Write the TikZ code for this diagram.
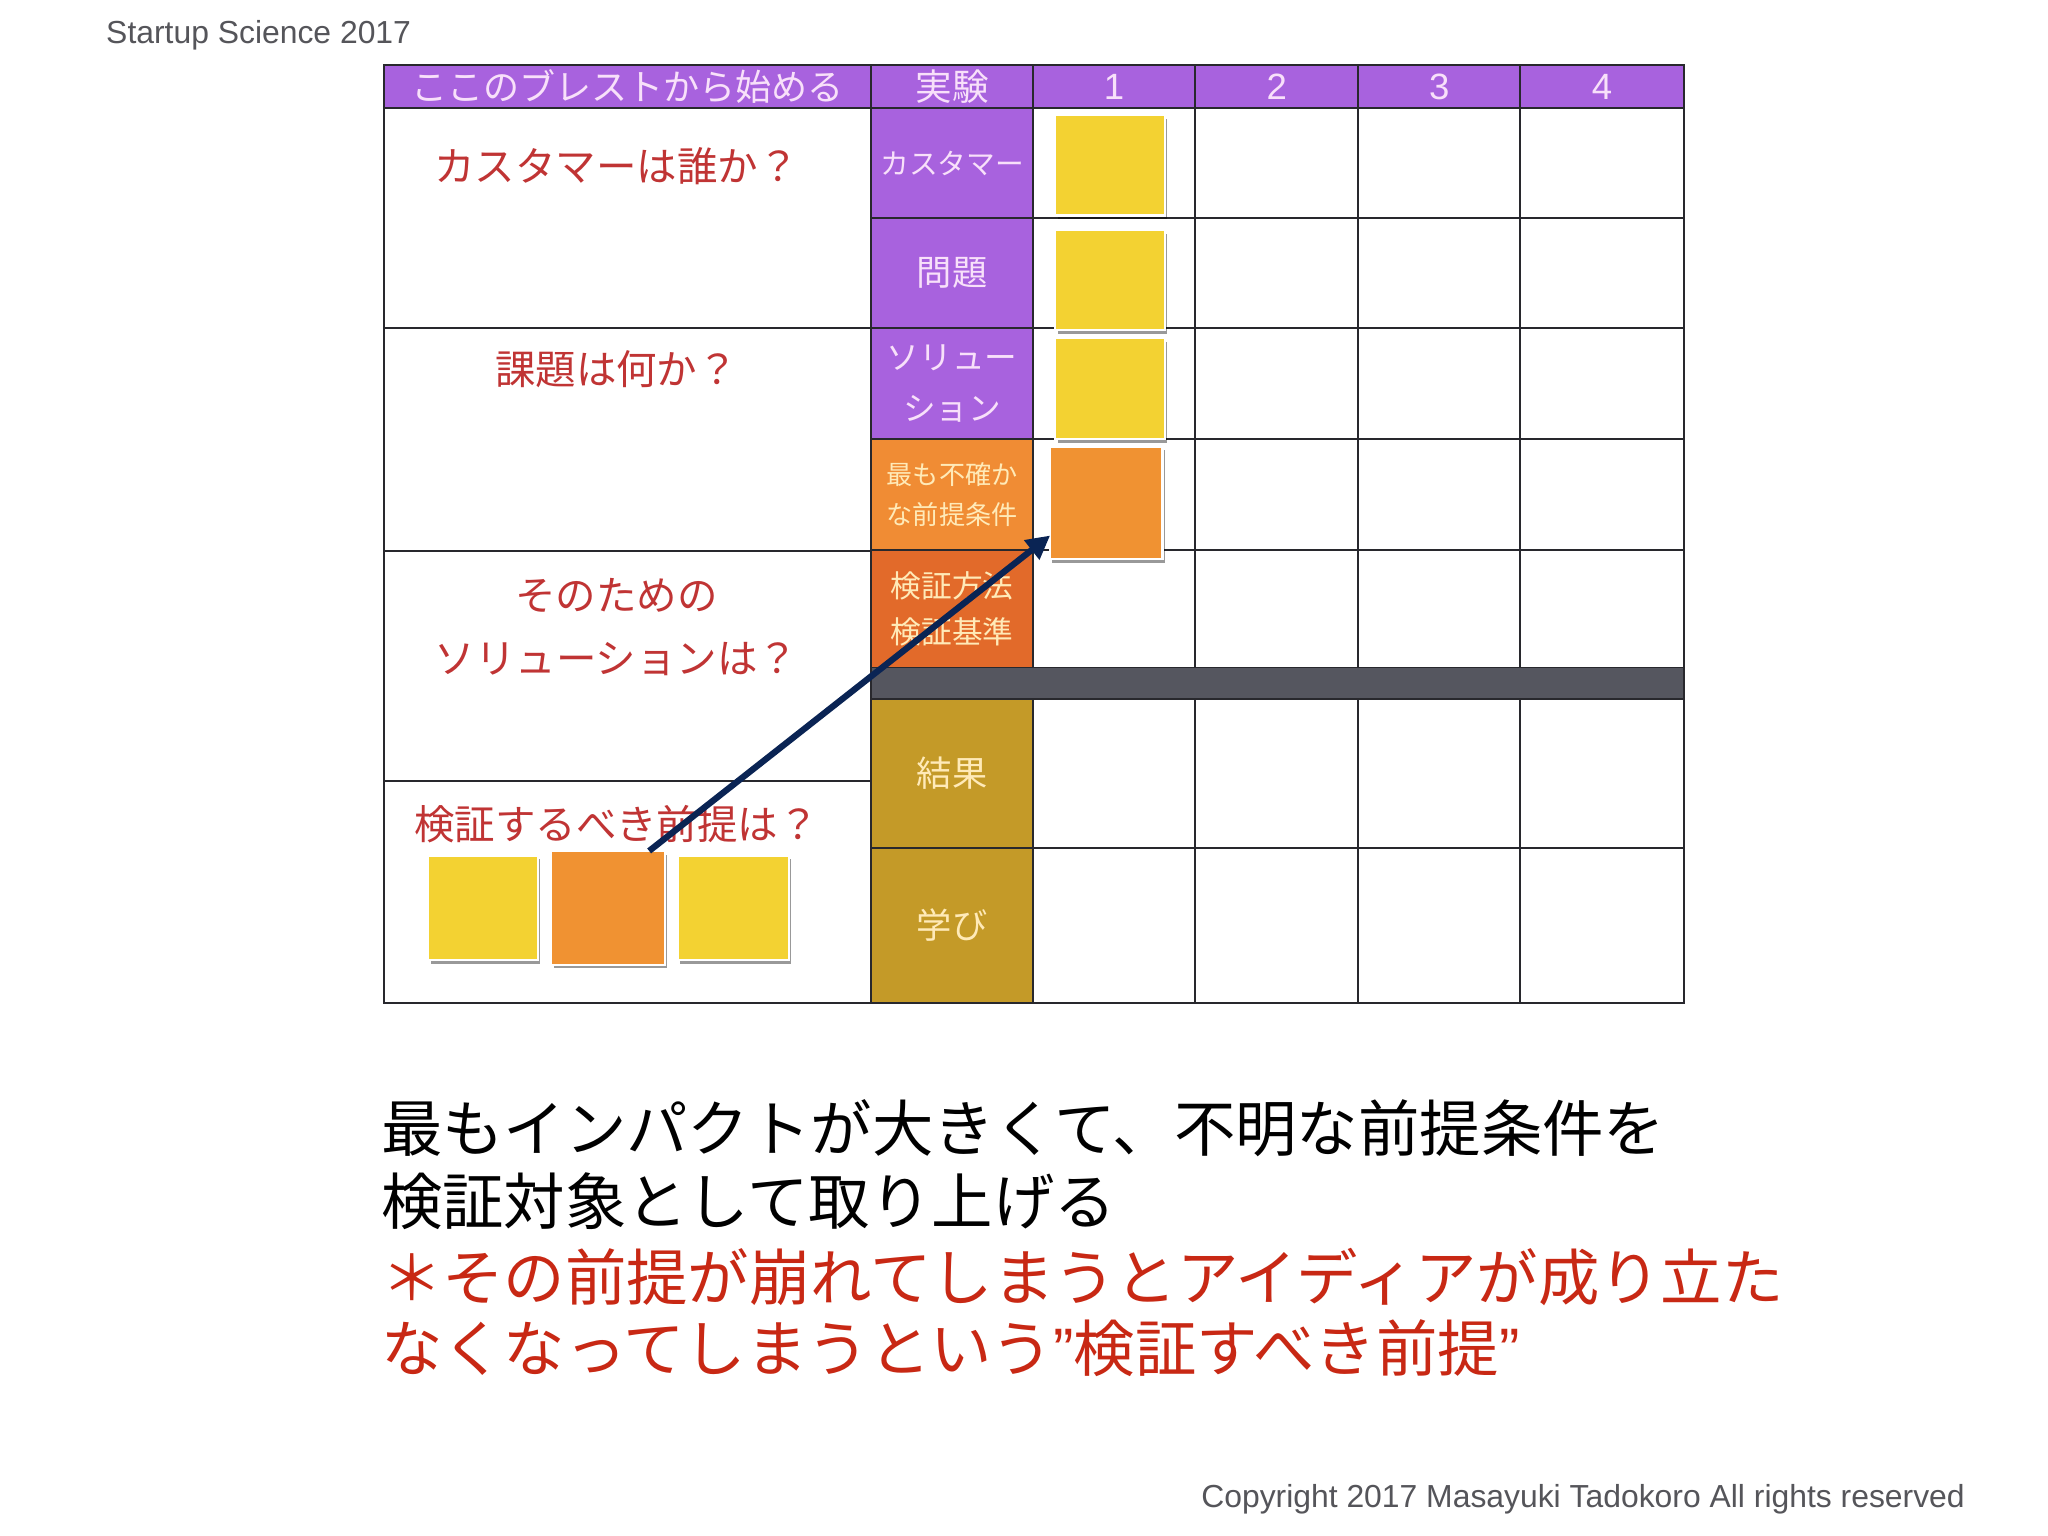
\documentclass[tikz,border=0pt]{standalone}
\usepackage{fontspec}
\setmainfont{Liberation Sans}
\newfontfamily\jpfont{Noto Sans CJK JP}
\usetikzlibrary{positioning,arrows.meta,shadows}

\definecolor{purp}{RGB}{168,98,222}
\definecolor{purptxt}{RGB}{248,224,250}
\definecolor{premc}{RGB}{240,140,52}
\definecolor{methc}{RGB}{226,106,42}
\definecolor{mustard}{RGB}{196,154,40}
\definecolor{warmtxt}{RGB}{255,234,184}
\definecolor{darkbar}{RGB}{85,86,95}
\definecolor{gridc}{RGB}{40,40,45}
\definecolor{stickyy}{RGB}{243,210,50}
\definecolor{stickyo}{RGB}{240,146,50}
\definecolor{qred}{RGB}{192,52,52}
\definecolor{nred}{RGB}{200,40,20}
\definecolor{navy}{RGB}{10,36,84}
\definecolor{footgray}{RGB}{85,85,90}

\tikzset{
  hdr/.style={draw=gridc, fill=purp, text=purptxt, inner sep=0pt, outer sep=0pt,
    minimum height=16.5pt, minimum width=62pt},
  side/.style={draw=gridc, inner sep=0pt, outer sep=0pt, minimum width=62pt, align=center},
  sticky/.style={draw=white, line width=0.8pt, inner sep=0pt, outer sep=0pt, minimum width=42pt,
    minimum height=38.5pt, drop shadow={shadow xshift=0.9pt, shadow yshift=-1.4pt,
    fill=black, opacity=0.4}},
  question/.style={text=qred, align=center, font=\jpfont\fontsize{15.5}{24}\selectfont},
  msg/.style={anchor=west, inner sep=0pt, font=\jpfont\fontsize{23.5}{28}\selectfont},
  footer/.style={text=footgray, inner sep=0pt, font=\fontsize{12.2}{12.2}\selectfont},
}
\tikzstyle{arrow} = [line width=2.4pt, draw=navy, -{Triangle[length=9pt,width=9pt]}]

\begin{document}
\begin{tikzpicture}[x=0.5pt,y=-0.5pt,line width=0.7pt]
  \useasboundingbox (0,0) rectangle (1568,1176);
  \fill[white] (0,0) rectangle (1568,1176);

  \node[footer] (title) at (198,27) {Startup Science 2017};

  \draw[gridc] (294,50) rectangle (1289,768);
  \draw[gridc] (294,251) -- (667,251);
  \draw[gridc] (294,422) -- (667,422);
  \draw[gridc] (294,598) -- (667,598);
  \draw[gridc] (791,167) -- (1289,167);
  \draw[gridc] (791,251) -- (1289,251);
  \draw[gridc] (791,336) -- (1289,336);
  \draw[gridc] (791,421) -- (1289,421);
  \draw[gridc] (791,649) -- (1289,649);
  \draw[gridc] (915,83) -- (915,511);
  \draw[gridc] (1040,83) -- (1040,511);
  \draw[gridc] (1164,83) -- (1164,511);
  \draw[gridc] (915,535) -- (915,768);
  \draw[gridc] (1040,535) -- (1040,768);
  \draw[gridc] (1164,535) -- (1164,768);
  \draw[gridc, fill=darkbar] (667,511) rectangle (1289,535);

  \node[hdr, minimum width=186.5pt, font=\jpfont\fontsize{13.8}{13.8}\selectfont] (hbrain) at (480.5,66.5) {ここのブレストから始める};
  \node[hdr, font=\jpfont\fontsize{14}{14}\selectfont] (hexp) at (729,66.5) {実験};
  \node[hdr, right=0pt of hexp, font=\fontsize{14}{14}\selectfont] (h1) {1};
  \node[hdr, right=0pt of h1, minimum width=62.5pt, font=\fontsize{14}{14}\selectfont] (h2) {2};
  \node[hdr, right=0pt of h2, font=\fontsize{14}{14}\selectfont] (h3) {3};
  \node[hdr, right=0pt of h3, minimum width=62.5pt, font=\fontsize{14}{14}\selectfont] (h4) {4};

  \node[side, fill=purp, text=purptxt, minimum height=42pt, font=\jpfont\fontsize{11}{11}\selectfont] (cust) at (729,125) {カスタマー};
  \node[side, fill=purp, text=purptxt, minimum height=42pt, below=0pt of cust, font=\jpfont\fontsize{13.5}{13.5}\selectfont] (prob) {問題};
  \node[side, fill=purp, text=purptxt, minimum height=42.5pt, below=0pt of prob, font=\jpfont\fontsize{12.5}{19.5}\selectfont] (sol) {ソリュー\\ション};
  \node[side, fill=premc, text=warmtxt, minimum height=42.5pt, below=0pt of sol, font=\jpfont\fontsize{10}{15.5}\selectfont] (prem) {最も不確か\\な前提条件};
  \node[side, fill=methc, text=warmtxt, minimum height=45pt, below=0pt of prem, font=\jpfont\fontsize{11.75}{17.5}\selectfont] (meth) {検証方法\\検証基準};
  \node[side, fill=mustard, text=warmtxt, minimum height=57pt, below=12pt of meth, font=\jpfont\fontsize{13.5}{13.5}\selectfont] (res) {結果};
  \node[side, fill=mustard, text=warmtxt, minimum height=59.5pt, below=0pt of res, font=\jpfont\fontsize{13.5}{13.5}\selectfont] (learn) {学び};

  \node[question] (qcust) at (472,127) {カスタマーは誰か？};
  \node[question] (qprob) at (472,283) {課題は何か？};
  \node[question] (qsol) at (472,480) {そのための\\ソリューションは？};
  \node[question] (qprem) at (472,631) {検証するべき前提は？};

  \node[sticky, fill=stickyy] (s1) at (850,126.5) {};
  \node[sticky, fill=stickyy, below=5.5pt of s1] (s2) {};
  \node[sticky, fill=stickyy, below=3pt of s2] (s3) {};
  \node[sticky, fill=stickyo, minimum width=43pt, minimum height=43pt] (s4) at (847,385) {};

  \node[sticky, fill=stickyy, minimum height=40pt] (b1) at (370,695) {};
  \node[sticky, fill=stickyo, minimum width=43.5pt, minimum height=43.5pt, right=5pt of b1] (b2) {};
  \node[sticky, fill=stickyy, minimum width=42.5pt, minimum height=40pt, right=5pt of b2] (b3) {};

  \draw[arrow] ([xshift=-6pt]b2.north east) -- ([yshift=9pt]s4.south west);

  \node[msg] (msg1) at (291,864) {最もインパクトが大きくて、不明な前提条件を};
  \node[msg] (msg2) at (291,920) {検証対象として取り上げる};
  \node[msg, text=nred] (note1) at (291,978) {＊その前提が崩れてしまうとアイディアが成り立た};
  \node[msg, text=nred] (note2) at (291,1032) {なくなってしまうという{\normalfont ”}検証すべき前提{\normalfont ”}};

  \node[footer] (copy) at (1212,1148) {Copyright 2017 Masayuki Tadokoro All rights reserved};
\end{tikzpicture}
\end{document}
